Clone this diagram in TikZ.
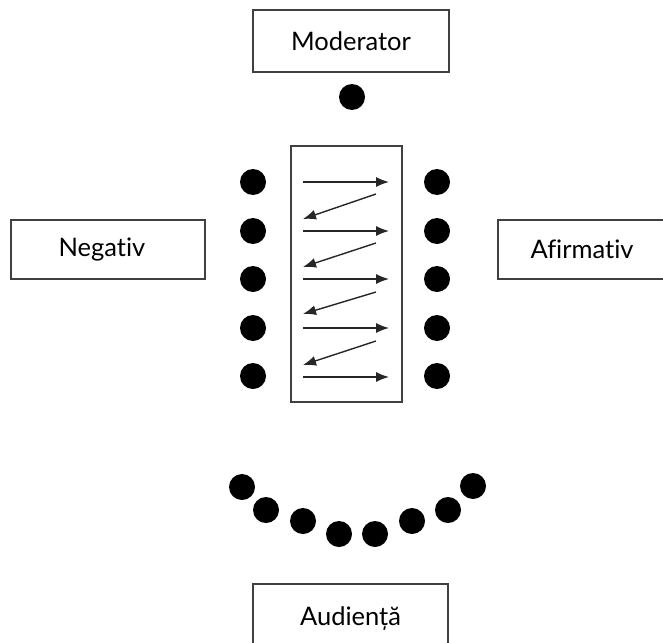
\documentclass[tikz,border=0pt]{standalone}
\usepackage{fontspec}
\setmainfont[Ligatures=NoCommon]{Lato}
\usetikzlibrary{arrows.meta}
\begin{document}
\begin{tikzpicture}[x=1pt,y=-1pt,
  labelbox/.style={draw=black!75,line width=1.6pt,minimum width=#1,minimum height=60pt,inner sep=0pt,font=\fontsize{25.5}{30}\selectfont},
  seat/.style={circle,fill=black,minimum size=26pt,inner sep=0pt},
  flow/.style={line width=1.4pt,black!85,-{Latex[length=13pt,width=10pt]}}]
\useasboundingbox (0,0) rectangle (663,642);
% boxes
\node[labelbox=196pt,minimum height=62pt] (mod) at (351,41) {Moderator};
\node[labelbox=194pt,minimum height=59pt] (neg) at (108,249.5) {\hspace*{-12pt}Negativ};
\node[labelbox=168pt,minimum height=59pt] (afi) at (582,249.5) {Afirmativ};
\node[labelbox=195pt,minimum height=70pt] (aud) at (350.5,619) {Audiență};
\node[draw=black!75,line width=1.6pt,minimum width=111pt,minimum height=256pt,inner sep=0pt] (table) at (346.5,274) {};
% moderator seat
\node[seat] (m) at (352,97) {};
% debaters
\foreach \i/\y in {1/182,2/231,3/279,4/328,5/376}{
  \node[seat] (l\i) at (253,\y) {};
  \node[seat] (r\i) at (437,\y) {};
}
% arrows
\foreach \i/\y in {1/182,2/231,3/279,4/328,5/377}{
  \coordinate (ha\i) at (303,\y);
  \coordinate (hb\i) at (389,\y);
  \draw[flow] (ha\i) -- (hb\i);
}
\foreach \i/\ya/\yb in {1/194/219,2/243/267,3/292/314,4/341/365}{
  \coordinate (da\i) at (376,\ya);
  \coordinate (db\i) at (303,\yb);
  \draw[flow] (da\i) -- (db\i);
}
% audience
\foreach \i/\x/\y in {1/242/487,2/266/510,3/303/521,4/339/534,5/375/534,6/412/521,7/448/510,8/473/486}{
  \node[seat] (a\i) at (\x,\y) {};
}
\end{tikzpicture}
\end{document}
